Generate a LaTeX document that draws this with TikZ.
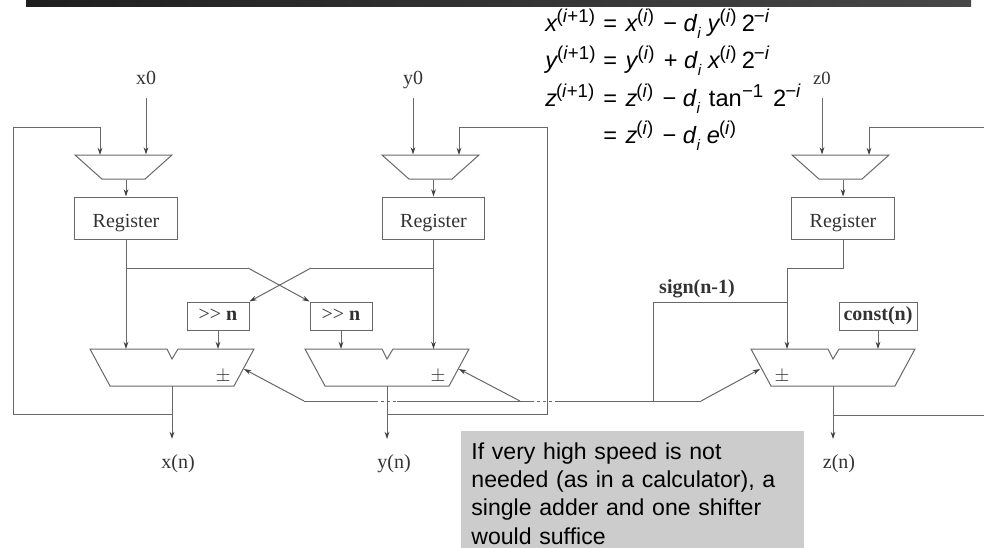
\documentclass[tikz,border=0pt]{standalone}
\usepackage{fontspec}
\setmainfont{Liberation Serif}
\newfontfamily\eqfont{Liberation Sans}
\usepackage{xcolor}
\usetikzlibrary{shapes,arrows,arrows.meta,positioning,fit,backgrounds}
\definecolor{linegray}{HTML}{686868}
\definecolor{notegray}{HTML}{CCCCCC}
\newcommand{\upidx}[1]{\kern-0.8pt\raisebox{6.5pt}{\fontsize{14}{14}\selectfont #1}}
\newcommand{\lowidx}[1]{\raisebox{-5.5pt}{\fontsize{11.5}{12}\selectfont #1}}

\begin{document}
\begin{tikzpicture}[
    x=0.75pt, y=-0.75pt,
    arrow/.style={-{Stealth[length=5.5pt,width=3.6pt,color=black!75]}, draw=linegray, line width=0.75pt},
    wire/.style={draw=linegray, line width=0.75pt},
    register/.style={draw=linegray, line width=0.75pt, minimum width=77pt, minimum height=31.5pt, inner sep=0pt, text height=13.5pt, text depth=0pt, font=\fontsize{15}{16}\selectfont, text=black!80},
    shifter/.style={draw=linegray, line width=0.75pt, minimum height=21pt, inner sep=0pt, text height=6pt, text depth=0pt, font=\fontsize{15}{16}\selectfont, text=black!80},
    mux/.style={draw=linegray, line width=0.75pt, trapezium, shape border rotate=180, trapezium stretches=true, trapezium angle=58, minimum width=72.75pt, minimum height=18pt, inner sep=1pt},
    label/.style={anchor=base, font=\fontsize{15}{16}\selectfont, text=black!80, inner sep=0pt},
    eqn/.style={anchor=base west, inner sep=0pt, font=\eqfont\fontsize{17.7}{20}\selectfont},
    adder/.pic={
        \draw[wire] (-82,0) -- (-5,0) -- (0,10) -- (6,0) -- (82,0) -- (62,37) -- (-62,37) -- cycle;
        \coordinate (-out) at (0,37);
        \coordinate (-right) at (72,20);
        \coordinate (-left) at (-73,20);
    }
]
    \useasboundingbox (0,0) rectangle (984,547);

    % Title bar
    \fill[left color=black!88, right color=black!72] (26,0) rectangle (971,6);

    % Equations
    \node[eqn] (lhsx) at (545,31) {\textit{x}\upidx{(\textit{i}+1)}};
    \node[eqn] (rhsx) at (603,31) {=\kern1.5pt{} \textit{x}\upidx{(\textit{i})}\kern2pt{} − \textit{d}\lowidx{\textit{i}} \textit{y}\upidx{(\textit{i})} \kern-1pt 2\upidx{−\textit{i}}};
    \node[eqn] (lhsy) at (545,68) {\textit{y}\upidx{(\textit{i}+1)}};
    \node[eqn] (rhsy) at (603,68) {=\kern1.5pt{} \textit{y}\upidx{(\textit{i})}\kern2pt{} + \textit{d}\lowidx{\textit{i}} \textit{x}\upidx{(\textit{i})} \kern-1pt 2\upidx{−\textit{i}}};
    \node[eqn] (lhsz) at (545,106) {\textit{z}\upidx{(\textit{i}+1)}};
    \node[eqn] (rhsz) at (603,106) {=\kern1.5pt{} \textit{z}\upidx{(\textit{i})}\kern2pt{} − \textit{d}\lowidx{\textit{i}} \kern1.5pt tan\kern1pt\upidx{−1} \kern2.5pt 2\upidx{−\textit{i}}};
    \node[eqn] (rhse) at (603,143) {=\kern1.5pt{} \textit{z}\upidx{(\textit{i})}\kern2pt{} − \textit{d}\lowidx{\textit{i}} \textit{e}\upidx{(\textit{i})}};

    % Inputs
    \node[label] (xzero) at (146,84) {x0};
    \node[label] (yzero) at (413,84) {y0};
    \node[label, font=\fontsize{14}{16}\selectfont] (zzero) at (822,84) {z0};
    \coordinate (xin) at (146,98);
    \coordinate (yin) at (413,98);
    \coordinate (zin) at (822,98);

    % Multiplexers and registers
    \node[mux] (muxx) at (123.5,167) {};
    \node[mux] (muxy) at (430.5,167) {};
    \node[mux] (muxz) at (840.5,167) {};
    \node[register] (regx) at (126,218) {Register};
    \node[register] (regy) at (433.5,218) {Register};
    \node[register] (regz) at (843,218) {Register};

    % Shifters and constant
    \node[shifter, minimum width=46.5pt] (shiftx) at (218,316) {\textgreater{}\textgreater{} \textbf{n}};
    \node[shifter, minimum width=46.5pt] (shifty) at (341,316) {\textgreater{}\textgreater{} \textbf{n}};
    \node[shifter, minimum width=58.5pt] (const) at (878,316) {\textbf{const(n)}};

    % Adders
    \pic (addx) at (172,349) {adder};
    \pic (addy) at (387,349) {adder};
    \pic (addz) at (833,349) {adder};
    \node[label] (pmx) at (223,381) {$\pm$};
    \node[label] (pmy) at (438,381) {$\pm$};
    \node[label] (pmz) at (782,381) {$\pm$};

    % Outputs
    \node[label] (xout) at (178,468) {x(n)};
    \node[label] (yout) at (394,468) {y(n)};
    \node[label] (zout) at (839,468) {z(n)};
    \coordinate (xend) at (172,439);
    \coordinate (yend) at (387,439);
    \coordinate (zend) at (833,439);

    % Note
    \node[fill=notegray, anchor=north west, minimum width=257.25pt, text width=242pt, inner xsep=7.5pt, inner ysep=0pt, align=left, font=\eqfont\fontsize{17.3}{21.2}\selectfont] (note) at (461,431) {\rule{0pt}{21pt}If very high speed is not\\needed (as in a calculator), a\\single adder and one shifter\\would suffice\rule[-3pt]{0pt}{3pt}};

    % Sign line
    \coordinate (signl) at (304,401);
    \coordinate (signm) at (520,401);
    \coordinate (signr) at (701,401);
    \coordinate (signj) at (653,401);
    \coordinate (signt) at (653,302);
    \coordinate (regzj) at (787,268);
    \coordinate (regzk) at (843,268);
    \node[label, font=\fontsize{15}{16}\selectfont\bfseries] (signlab) at (697,293) {sign(n-1)};

    % Arrows
    \draw[arrow] (xin) -- (xin |- muxx.north);
    \draw[arrow] (yin) -- (yin |- muxy.north);
    \draw[arrow] (zin) -- (zin |- muxz.north);
    \draw[arrow] (regx.north |- muxx.south) -- (regx.north);
    \draw[arrow] (regy.north |- muxy.south) -- (regy.north);
    \draw[arrow] (regz.north |- muxz.south) -- (regz.north);

    \draw[arrow] (regx.south) -- (regx.south |- 0,349);
    \draw[arrow] (regy.south) -- (regy.south |- 0,349);
    \draw[wire] (regx.south |- 0,268) -- (248,268);
    \draw[arrow] (248,268) -- (shifty.north west);
    \draw[wire] (regy.south |- 0,268) -- (311,268);
    \draw[arrow] (311,268) -- (shiftx.north east);
    \draw[arrow] (shiftx.south) -- (shiftx.south |- 0,349);
    \draw[arrow] (shifty.south) -- (shifty.south |- 0,349);
    \draw[arrow] (const.south) -- (const.south |- 0,349);

    \draw[wire] (regz.south) -- (regzk) -- (regzj);
    \draw[arrow] (regzj) -- (regzj |- 0,349);
    \draw[wire] (regzj |- signt) -- (signt) -- (signj);

    \draw[arrow] (signl) -- (addx-right);
    \draw[arrow] (signm) -- (addy-right);
    \draw[arrow] (signr) -- (addz-left);
    \draw[wire] (signl) -- (signr);
    \draw[white, line width=1pt, dash pattern=on 2.5pt off 2pt] (378,401) -- (397,401);
    \draw[white, line width=1pt, dash pattern=on 2.5pt off 2pt] (534,401) -- (556,401);

    % Feedback
    \draw[arrow] (addx-out) -- (xend);
    \draw[arrow] (addy-out) -- (yend);
    \draw[arrow] (addz-out) -- (zend);
    \draw[arrow] (172,414) -- (13,414) -- (13,127) -- (100,127) -- (100,155);
    \draw[arrow] (387,414) -- (547,414) -- (547,127) -- (459,127) -- (459,155);
    \draw[arrow] (984,127) -- (869,127) -- (869,155);
    \draw[wire] (833,415) -- (984,415);
\end{tikzpicture}
\end{document}
